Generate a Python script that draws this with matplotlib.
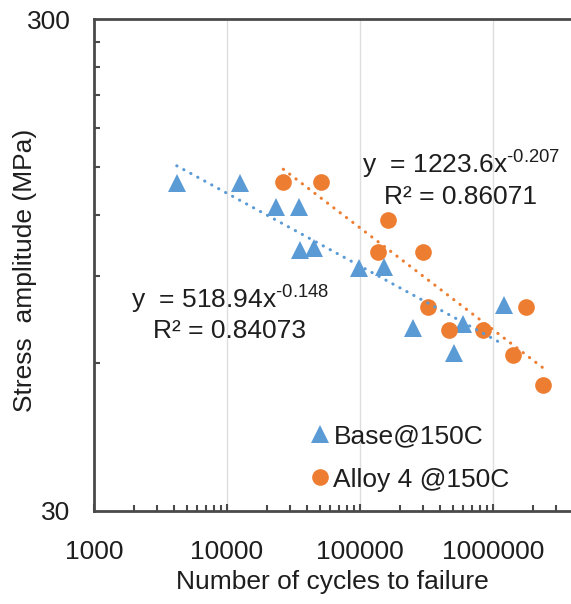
import numpy as np
import matplotlib
matplotlib.use('Agg')
from matplotlib import pyplot as plt
from matplotlib import ticker

# fatigue data
base_cycles = [4190, 12500, 23300, 35000, 35400, 45100, 98900, 151000,
               252000, 512000, 592000, 1200000]
base_stress = [139, 139, 124.5, 124.5, 101.7, 102.5, 93.4, 94,
               70.6, 62.9, 71.8, 78.7]
alloy_cycles = [26500, 50600, 163000, 136000, 299000, 327000, 470000,
                836000, 1770000, 1420000, 2370000]
alloy_stress = [139.8, 139.8, 117, 100.9, 100.9, 77.9, 70.1,
                70.1, 77.9, 62.1, 54]

# power-law trendlines as printed on the chart
base_fit = (518.94, -0.148, 0.84073)
alloy_fit = (1223.6, -0.207, 0.86071)

x_ticks = [1000, 10000, 100000, 1000000]
x_ticklabels = ['1000', '10000', '100000', '1000000']
y_ticks = [30, 300]
y_minor = [60, 90, 120, 150, 180, 210, 240, 270]

blue = '#5B9BD5'
orange = '#ED7D31'
txt = '#1e1e1e'
axc = '#4a4a4a'
fs = 19

plt.rcParams['font.family'] = ['Liberation Sans', 'DejaVu Sans']
plt.rcParams['mathtext.fontset'] = 'custom'
plt.rcParams['mathtext.rm'] = 'Liberation Sans'
plt.rcParams['mathtext.it'] = 'Liberation Sans'

my_dpi = 100
fig = plt.figure(figsize=(571/my_dpi, 604/my_dpi), dpi=my_dpi)
ax = fig.add_axes([94/571, 1-510.7/604, 477/571, 491.4/604])

ax.set_xscale('log')
ax.set_yscale('log')
ax.set_xlim(1000, 10**(3+477/133.))
ax.set_ylim(30, 300)

# grid on the decades
for xv in x_ticks[1:]:
    ax.axvline(xv, color='#dedede', lw=1.0, zorder=0)

ax.plot(base_cycles, base_stress, linestyle='none', marker='^', color=blue,
        markersize=13, markeredgewidth=0, label='Base@150C', zorder=3)
ax.plot(alloy_cycles, alloy_stress, linestyle='none', marker='o', color=orange,
        markersize=12, markeredgewidth=0, label='Alloy 4 @150C', zorder=3)

for cyc, fit, col in [(base_cycles, base_fit, blue), (alloy_cycles, alloy_fit, orange)]:
    xx = np.logspace(np.log10(min(cyc)), np.log10(max(cyc)), 50)
    ax.plot(xx, fit[0]*xx**fit[1], color=col, lw=2.2, linestyle=(0, (0.1, 2.5)),
            dash_capstyle='round', zorder=4)

def eq_text(fit):
    expo = ('%g' % fit[1]).replace('-', '\u2010')
    return r'y  = %gx$^{\mathregular{%s}}$' % (fit[0], expo)

ax.text(0.769, 0.6854, eq_text(alloy_fit), transform=ax.transAxes, ha='center',
        va='baseline', fontsize=fs, color=txt, zorder=5)
ax.text(0.769, 0.6244, 'R\u00b2 = %.5f' % alloy_fit[2], transform=ax.transAxes,
        ha='center', va='baseline', fontsize=fs, color=txt, zorder=5)
ax.text(0.285, 0.4122, eq_text(base_fit), transform=ax.transAxes, ha='center',
        va='baseline', fontsize=fs, color=txt, zorder=5)
ax.text(0.285, 0.3512, 'R\u00b2 = %.5f' % base_fit[2], transform=ax.transAxes,
        ha='center', va='baseline', fontsize=fs, color=txt, zorder=5)

# ticks
ax.set_xticks(x_ticks)
ax.set_xticklabels(x_ticklabels)
ax.xaxis.set_minor_locator(ticker.LogLocator(base=10, subs=range(2, 10), numticks=20))
ax.xaxis.set_minor_formatter(ticker.NullFormatter())
ax.set_yticks(y_ticks)
ax.set_yticklabels([str(v) for v in y_ticks])
ax.set_yticks(y_minor, minor=True)
ax.yaxis.set_minor_formatter(ticker.NullFormatter())

ax.tick_params(axis='x', which='major', direction='in', length=5, width=1.5,
               color=axc, labelsize=fs, labelcolor=txt, pad=21)
ax.tick_params(axis='x', which='minor', direction='in', length=4, width=1.5, color=axc)
ax.tick_params(axis='y', which='major', direction='in', length=0, width=1.5,
               color=axc, labelsize=fs, labelcolor=txt, pad=17)
ax.tick_params(axis='y', which='minor', direction='in', length=4, width=1.5, color=axc)

for s in ['left', 'top', 'bottom']:
    ax.spines[s].set_color(axc)
    ax.spines[s].set_linewidth(2.0)
ax.spines['right'].set_visible(False)

ax.set_xlabel('Number of cycles to failure', fontsize=fs, color=txt)
ax.xaxis.set_label_coords(0.5, -0.121)
ax.set_ylabel('Stress  amplitude (MPa)', fontsize=fs, color=txt)
ax.yaxis.set_label_coords(-0.12, 0.49)

ax.legend(loc='upper left', bbox_to_anchor=(0.455, 0.175), frameon=False,
          fontsize=fs, handlelength=0.7, handletextpad=0.15, labelspacing=0.72,
          borderpad=0, borderaxespad=0, labelcolor=txt)

plt.savefig('out.png', dpi=my_dpi)
